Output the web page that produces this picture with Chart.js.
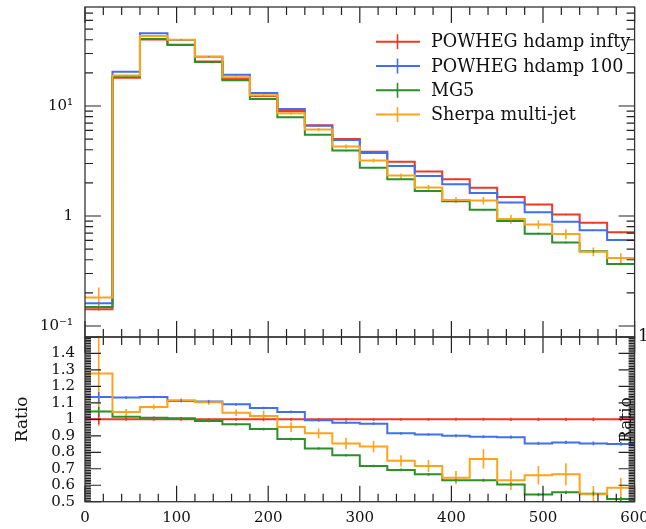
<!DOCTYPE html>
<html><head><meta charset="utf-8">
<script src="https://cdn.jsdelivr.net/npm/chart.js@4/dist/chart.umd.min.js"></script>
<style>
html,body{margin:0;padding:0;background:#fff;}
#wrap{position:relative;width:646px;height:529px;overflow:hidden;}
canvas{position:absolute;left:0;top:0;}
</style></head><body>
<div id="wrap"><canvas id="main" width="646" height="529"></canvas><canvas id="ratio" width="646" height="529"></canvas></div>
<script>
// ---- data ----
const binEdges = [0,30,60,90,120,150,180,210,240,270,300,330,360,390,420,450,480,510,540,570,600];
const seriesNames = ["POWHEG hdamp infty","POWHEG hdamp 100","MG5","Sherpa multi-jet"];
const seriesColors = ["#ec3a26","#4070f0","#2a9128","#ffa31a"];
const xTickLabels = [0,100,200,300,400,500,600];

const powhegInfty = [0.142,18.1,40.3,35.9,25.4,17.6,12.3,9.0,6.67,5.02,3.83,3.12,2.54,2.16,1.81,1.49,1.27,1.03,0.87,0.71];
const powheg100   = [0.161,20.5,45.8,39.9,28.1,19.2,13.1,9.41,6.63,4.92,3.73,2.85,2.31,1.94,1.62,1.33,1.08,0.886,0.743,0.604];
const mg5         = [0.149,18.4,40.7,36.1,25.1,17.1,11.6,7.92,5.49,3.93,2.75,2.16,1.69,1.36,1.14,0.901,0.690,0.574,0.478,0.366];
const sherpa      = [0.182,18.9,43.3,40.1,28.0,18.3,12.5,8.58,6.10,4.29,3.20,2.33,1.82,1.40,1.38,0.939,0.838,0.686,0.474,0.415];

const errInfty  = [0.004,0.15,0.3,0.3,0.22,0.16,0.12,0.09,0.07,0.055,0.045,0.038,0.032,0.028,0.024,0.021,0.018,0.016,0.014,0.012];
const err100    = [0.004,0.16,0.32,0.3,0.23,0.16,0.12,0.09,0.07,0.055,0.045,0.036,0.03,0.026,0.022,0.019,0.016,0.014,0.012,0.011];
const errMg5    = [0.004,0.15,0.3,0.28,0.2,0.15,0.11,0.08,0.06,0.048,0.038,0.032,0.027,0.023,0.02,0.017,0.014,0.012,0.011,0.009];
const errSherpa = [0.042,0.33,0.6,0.43,0.38,0.35,0.39,0.27,0.2,0.18,0.13,0.11,0.09,0.086,0.105,0.088,0.071,0.07,0.044,0.043];

const ratioInfty  = [1,1,1,1,1,1,1,1,1,1,1,1,1,1,1,1,1,1,1,1];
const ratio100    = [1.136,1.132,1.136,1.112,1.108,1.091,1.069,1.045,0.994,0.98,0.974,0.915,0.908,0.90,0.894,0.892,0.854,0.86,0.854,0.851];
const ratioMg5    = [1.047,1.016,1.01,1.006,0.99,0.97,0.941,0.88,0.823,0.782,0.717,0.693,0.666,0.63,0.63,0.605,0.543,0.557,0.549,0.516];
const ratioSherpa = [1.279,1.045,1.075,1.116,1.104,1.04,1.02,0.953,0.915,0.854,0.835,0.748,0.717,0.646,0.76,0.63,0.66,0.666,0.545,0.585];

const rerrInfty  = [0.03,0.008,0.008,0.008,0.008,0.008,0.008,0.008,0.008,0.008,0.008,0.008,0.008,0.009,0.009,0.01,0.01,0.01,0.011,0.012];
const rerr100    = [0.03,0.008,0.008,0.008,0.008,0.008,0.008,0.008,0.008,0.008,0.008,0.008,0.008,0.009,0.009,0.01,0.01,0.01,0.011,0.012];
const rerrMg5    = [0.03,0.008,0.008,0.008,0.008,0.008,0.008,0.008,0.008,0.008,0.008,0.008,0.008,0.009,0.009,0.01,0.01,0.01,0.011,0.012];
const rerrSherpa = [0.32,0.018,0.015,0.012,0.015,0.02,0.032,0.03,0.03,0.035,0.034,0.034,0.036,0.04,0.058,0.059,0.056,0.068,0.05,0.06];

// ---- helpers ----
const FONT = "'DejaVu Serif', 'Liberation Serif', serif";
function stepData(vals){
  const pts = vals.map((v,i)=>({x:binEdges[i], y:v}));
  pts.push({x:binEdges[vals.length], y:vals[vals.length-1]});
  return pts;
}
function makeDatasets(valsList, errList){
  const orders = [3,2,1,0];
  return valsList.map((vals,i)=>({
    label: seriesNames[i], data: stepData(vals), values: vals, errors: errList[i],
    borderColor: seriesColors[i], backgroundColor: seriesColors[i], borderWidth: 2,
    pointRadius: 0, stepped: true, fill: false, order: orders[i], tension: 0
  }));
}
function noPad(s){ s.paddingLeft = 0; s.paddingRight = 0; s.paddingTop = 0; s.paddingBottom = 0; }
const errorBarPlugin = {
  id: 'errbars',
  afterDatasetsDraw(chart){
    const {ctx, chartArea:a, scales:{x,y}} = chart;
    ctx.save();
    ctx.beginPath(); ctx.rect(a.left, a.top, a.right-a.left, a.bottom-a.top); ctx.clip();
    chart.data.datasets.slice().reverse().forEach(ds=>{
      ctx.strokeStyle = ds.borderColor; ctx.lineWidth = 1.6;
      ds.values.forEach((v,i)=>{
        const e = ds.errors[i];
        const cx = x.getPixelForValue((binEdges[i]+binEdges[i+1])/2);
        const lo = Math.max(v-e, 1e-6);
        ctx.beginPath();
        ctx.moveTo(cx, y.getPixelForValue(v+e));
        ctx.lineTo(cx, y.getPixelForValue(lo));
        ctx.stroke();
      });
    });
    ctx.restore();
  }
};
function frameTicksPlugin(cfg){
  return {
    id: 'frameticks',
    afterDraw(chart){
      const {ctx, chartArea:a, scales:{x,y}} = chart;
      ctx.save();
      ctx.strokeStyle = '#222'; ctx.lineWidth = 1.2;
      for (let v = 0; v <= 600; v += 20){
        const px = x.getPixelForValue(v);
        const len = (v % 100 === 0) ? 16 : 8;
        ctx.beginPath();
        ctx.moveTo(px, a.top); ctx.lineTo(px, a.top+len);
        ctx.moveTo(px, a.bottom); ctx.lineTo(px, a.bottom-len);
        ctx.stroke();
      }
      cfg.yMajor.forEach(v=>{
        const py = y.getPixelForValue(v);
        ctx.beginPath();
        ctx.moveTo(a.left, py); ctx.lineTo(a.left+cfg.majLen, py);
        ctx.moveTo(a.right, py); ctx.lineTo(a.right-cfg.majLen, py);
        ctx.stroke();
      });
      cfg.yMinor.forEach(v=>{
        const py = y.getPixelForValue(v);
        ctx.beginPath();
        ctx.moveTo(a.left, py); ctx.lineTo(a.left+cfg.minLen, py);
        ctx.moveTo(a.right, py); ctx.lineTo(a.right-cfg.minLen, py);
        ctx.stroke();
      });
      ctx.strokeStyle = '#333'; ctx.lineWidth = 1.3;
      ctx.strokeRect(a.left, a.top, a.right-a.left, a.bottom-a.top);
      if (cfg.extra) cfg.extra(chart);
      ctx.restore();
    }
  };
}
const legendPlugin = {
  id: 'legendbox',
  afterDraw(chart){
    const ctx = chart.ctx;
    ctx.save();
    chart.data.datasets.forEach((ds,i)=>{
      const yy = 41.7 + 24.3*i;
      ctx.strokeStyle = ds.borderColor; ctx.lineWidth = 2;
      ctx.beginPath(); ctx.moveTo(376, yy); ctx.lineTo(420, yy); ctx.stroke();
      ctx.lineWidth = 1.6;
      ctx.beginPath(); ctx.moveTo(397.5, yy-7.5); ctx.lineTo(397.5, yy+7.5); ctx.stroke();
      ctx.fillStyle = '#111'; ctx.font = "17.6px " + FONT;
      ctx.textBaseline = 'alphabetic'; ctx.textAlign = 'left';
      ctx.fillText(ds.label, 431, yy+5.5);
    });
    ctx.restore();
  }
};

// ---- main panel ----
const logMajor = [0.1,1,10];
const logMinor = [];
[0.1,1,10].forEach(d=>{ for (let k=2;k<=9;k++){ const v=k*d; if (v < Math.pow(10,1.9)) logMinor.push(v);} });
function isDecade(v){ const l = Math.log10(v); return Math.abs(l-Math.round(l))<1e-6; }
const decadeLabel = {"-1":"10\u207B\u00B9","0":"1","1":"10\u00B9"};

new Chart(document.getElementById('main'), {
  type: 'line',
  data: { datasets: makeDatasets([powhegInfty,powheg100,mg5,sherpa],[errInfty,err100,errMg5,errSherpa]) },
  options: {
    responsive:false, animation:false, devicePixelRatio:1,
    layout:{ autoPadding:false, padding:{top:7, right:11.4, bottom:192, left:0} },
    plugins:{ legend:{display:false}, tooltip:{enabled:false} },
    scales:{
      x:{ type:'linear', min:0, max:600, display:false },
      y:{ type:'logarithmic', min:Math.pow(10,-1.1), max:Math.pow(10,1.9),
          afterFit:s=>{ s.width = 85; noPad(s); },
          grid:{display:false, drawTicks:false}, border:{display:false},
          ticks:{ autoSkip:false, padding:12, color:'#111', font:{family:FONT, size:15},
            callback:(v)=>{ if(!isDecade(v)) return null; const l = Math.round(Math.log10(v)); return decadeLabel[String(l)] ?? null; } } }
    }
  },
  plugins:[errorBarPlugin, frameTicksPlugin({yMajor:logMajor, yMinor:logMinor, majLen:16, minLen:8}), legendPlugin]
});

// ---- ratio panel ----
const rMajor = [], rMinor = [];
for (let k=50;k<=150;k++){ const v=k/100; if (k%10===0) rMajor.push(v); else rMinor.push(v); }

new Chart(document.getElementById('ratio'), {
  type: 'line',
  data: { datasets: makeDatasets([ratioInfty,ratio100,ratioMg5,ratioSherpa],[rerrInfty,rerr100,rerrMg5,rerrSherpa]) },
  options: {
    responsive:false, animation:false, devicePixelRatio:1,
    layout:{ autoPadding:false, padding:{top:337, right:11.4, bottom:0, left:0} },
    plugins:{ legend:{display:false}, tooltip:{enabled:false} },
    scales:{
      x:{ type:'linear', min:0, max:600, afterFit:s=>{ s.height = 27.3; noPad(s); },
          grid:{display:false, drawTicks:false}, border:{display:false},
          afterBuildTicks:s=>{ s.ticks = xTickLabels.map(v=>({value:v})); },
          ticks:{ autoSkip:false, maxRotation:0, padding:7, color:'#111', font:{family:FONT, size:15} } },
      y:{ min:0.5, max:1.5, afterFit:s=>{ s.width = 85; noPad(s); },
          grid:{display:false, drawTicks:false}, border:{display:false},
          ticks:{ stepSize:0.1, autoSkip:false, padding:10, color:'#111', font:{family:FONT, size:15},
            callback:(v)=>{ if (Math.abs(v-1.5)<1e-6) return null; return String(+v.toFixed(1)); } },
          title:{ display:true, text:'Ratio', color:'#111', font:{family:FONT, size:17}, padding:{top:12,bottom:0} } }
    }
  },
  plugins:[errorBarPlugin, frameTicksPlugin({yMajor:rMajor, yMinor:rMinor, majLen:16, minLen:6, extra:(chart)=>{
    const ctx = chart.ctx;
    ctx.fillStyle = '#111'; ctx.font = "17px " + FONT;
    ctx.save(); ctx.translate(631, 420); ctx.rotate(-Math.PI/2);
    ctx.textAlign='center'; ctx.textBaseline='alphabetic'; ctx.fillText('Ratio', 0, 0); ctx.restore();
    ctx.textAlign='left'; ctx.textBaseline='middle'; ctx.fillText('1', 638, 337);
  }})]
});
</script>
</body></html>
